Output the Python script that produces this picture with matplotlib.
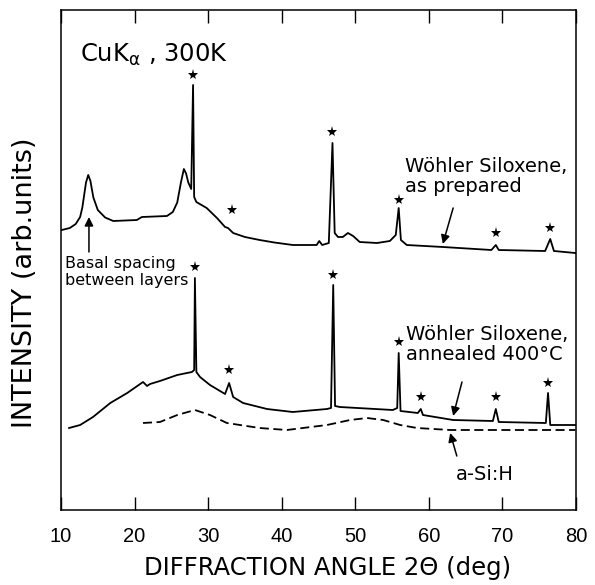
import numpy as np
import matplotlib
matplotlib.use("Agg")
from matplotlib import pyplot as plt

plt.rcParams['font.family'] = ['DejaVu Sans']
plt.rcParams['mathtext.fontset'] = 'dejavusans'

# Woehler siloxene, as prepared (2theta in deg, intensity in arb. units)
prep_x = [10.1, 11.2, 12.0, 12.6, 12.9, 13.4, 13.7, 14.0, 14.4, 15.0, 16.0, 17.1, 20.3,
          21.0, 24.4, 25.2, 25.8, 26.3, 26.7, 27.0, 27.3, 27.7, 27.95, 28.1, 28.4, 29.8,
          31.2, 32.3, 32.7, 33.4, 35.0, 37.0, 39.0, 41.5, 44.75, 45.1, 45.5, 46.4, 46.9,
          47.2, 47.65, 48.3, 49.0, 49.7, 50.6, 52.95, 54.7, 55.5, 55.9, 56.2, 57.0, 61.9,
          68.5, 69.1, 69.5, 75.8, 76.5, 77.0, 79.9]
prep_y = [56.0, 56.4, 57.2, 58.6, 60.5, 65.5, 67.0, 65.8, 62.5, 60.0, 58.5, 57.8, 58.0,
          58.6, 58.8, 59.6, 61.5, 65.5, 68.2, 67.3, 65.5, 64.2, 85.0, 62.6, 61.6, 60.4,
          58.4, 56.6, 56.4, 55.4, 54.6, 54.0, 53.5, 53.0, 53.0, 53.8, 53.0, 53.4, 73.4,
          55.4, 54.6, 54.6, 55.4, 54.8, 53.6, 53.4, 53.8, 55.0, 60.4, 54.0, 53.0, 52.6,
          52.0, 53.0, 52.0, 51.8, 54.2, 51.8, 51.4]

# Woehler siloxene, annealed 400 C
ann_x = [11.1, 12.6, 14.35, 16.7, 19.0, 21.15, 21.7, 22.1, 23.45, 25.8, 27.8, 28.1, 28.2,
         28.4, 28.9, 30.25, 32.3, 32.85, 33.4, 34.75, 38.0, 41.5, 46.15, 46.7, 47.0, 47.25,
         47.9, 55.1, 55.7, 55.9, 56.15, 58.5, 58.9, 59.2, 63.3, 68.7, 69.1, 69.5, 75.9,
         76.2, 76.5, 79.9]
ann_y = [16.4, 17.0, 18.6, 21.4, 23.4, 25.6, 24.8, 25.2, 25.8, 27.0, 27.6, 28.0, 46.4,
         27.6, 26.6, 25.0, 23.2, 25.4, 22.6, 21.4, 20.2, 19.6, 20.2, 20.4, 45.0, 20.8,
         20.6, 20.0, 20.4, 31.4, 19.8, 19.4, 20.2, 19.0, 18.0, 17.8, 20.2, 17.6, 17.4,
         23.4, 17.0, 17.0]

# a-Si:H reference
asi_x = [21.15, 23.45, 25.8, 28.2, 30.25, 32.55, 37.0, 40.7, 46.15, 49.3, 51.6, 53.8,
         56.1, 58.4, 62.9, 79.9]
asi_y = [17.4, 17.6, 19.0, 20.0, 19.0, 17.4, 16.4, 16.0, 17.0, 18.0, 18.4, 18.0, 17.0,
         16.4, 16.0, 16.0]

# crystalline Si reflections marked with stars
star_prep_x = [27.95, 33.2, 46.9, 55.9, 69.1, 76.4]
star_prep_y = [87.0, 60.0, 75.6, 62.0, 55.4, 56.4]
star_ann_x = [28.2, 32.9, 47.0, 55.9, 58.9, 69.1, 76.2]
star_ann_y = [48.6, 28.0, 47.0, 33.6, 22.6, 22.6, 25.4]

xticks = [10, 20, 30, 40, 50, 60, 70, 80]

fig = plt.figure(figsize=(5.95, 5.85), dpi=100)
ax = fig.add_axes([61 / 595, 1 - 510 / 585, 515 / 595, 500 / 585])

ax.plot(prep_x, prep_y, color='black', lw=1.3)
ax.plot(ann_x, ann_y, color='black', lw=1.3)
ax.plot(asi_x, asi_y, color='black', lw=1.3, linestyle=(0, (5, 2.5)))
ax.plot(star_prep_x, star_prep_y, '*', color='black', ms=8, mew=0)
ax.plot(star_ann_x, star_ann_y, '*', color='black', ms=8, mew=0)

ax.set_xlim(10, 80)
ax.set_ylim(0, 100)
ax.set_xticks(xticks)
ax.set_yticks([])
ax.tick_params(axis='x', direction='in', length=9.5, width=1, top=True,
               labelsize=14.5, pad=12)
for lab in ax.get_xticklabels():
    lab.set_family('Liberation Sans')
for s in ax.spines.values():
    s.set_linewidth(1.1)

ax.set_xlabel('DIFFRACTION ANGLE 2Θ (deg)', fontsize=17.5)
ax.xaxis.set_label_coords(0.518, -0.092)
ax.set_ylabel('INTENSITY (arb.units)', fontsize=19.5)
ax.yaxis.set_label_coords(-0.044, 0.454)

ax.text(12.6, 91, 'CuK$_{\\mathrm{\\alpha}}$ , 300K', fontsize=17.5, va='center', ha='left')

arrow = dict(arrowstyle='-|>', color='black', lw=1.1, mutation_scale=13,
             shrinkA=0, shrinkB=0)

# basal spacing
ax.annotate('', xy=(13.8, 58.6), xytext=(13.8, 51.6), arrowprops=arrow)
ax.text(10.6, 50.8, 'Basal spacing\nbetween layers', fontsize=11.5, va='top', ha='left',
        linespacing=1.15)

ax.text(56.75, 70.6, 'Wöhler Siloxene,\nas prepared', fontsize=14, va='top',
        ha='left', linespacing=1.05)
ax.annotate('', xy=(61.9, 53.2), xytext=(63.3, 60.4), arrowprops=arrow)

ax.text(56.9, 37.0, 'Wöhler Siloxene,\nannealed 400°C', fontsize=14, va='top',
        ha='left', linespacing=1.05)
ax.annotate('', xy=(63.3, 18.8), xytext=(64.5, 25.6), arrowprops=arrow)

ax.annotate('', xy=(62.9, 15.4), xytext=(63.8, 10.8), arrowprops=arrow)
ax.text(67.6, 7.2, 'a-Si:H', fontsize=14, va='center', ha='center')

fig.savefig('out.png', dpi=100)
